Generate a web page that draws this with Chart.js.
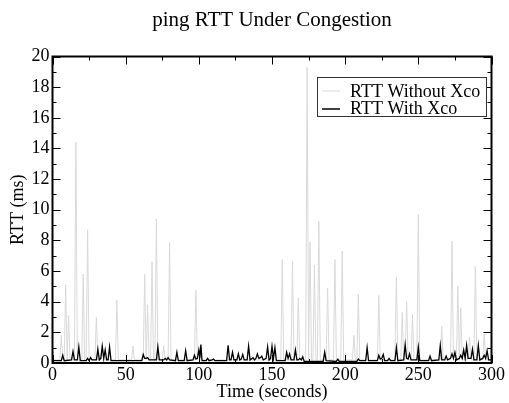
<!DOCTYPE html>
<html>
<head>
<meta charset="utf-8">
<script src="https://cdn.jsdelivr.net/npm/chart.js@4/dist/chart.umd.min.js"></script>
<style>
  html, body { margin: 0; padding: 0; background: #fff; }
  #rttChart { display: block; }
</style>
</head>
<body>
<canvas id="rttChart" width="509" height="403"></canvas>
<script>
// RTT without Xco: time (s) and value (ms)
var withoutTime = [0, 5, 6, 7, 8, 9, 10, 11, 12, 15, 16, 17, 20, 21, 22, 23, 24, 25, 29, 30, 31, 33, 34, 35,
    43, 44, 45, 54, 55, 56, 62, 63, 64, 65, 66, 67, 68, 69, 70, 71, 72, 75, 76, 77, 79, 80, 81, 97, 98, 99,
    156, 157, 158, 163, 164, 165, 167, 168, 169, 173, 174, 175, 176, 177, 178, 179, 180, 181, 182, 183,
    187, 188, 189, 192, 193, 194, 197, 198, 199, 205, 206, 207, 208, 209, 210, 222, 223, 224,
    234, 235, 236, 238, 239, 240, 241, 242, 243, 245, 246, 247, 249, 250, 251, 265, 266, 267,
    272, 273, 274, 276, 277, 278, 279, 280, 284, 285, 286, 288, 289, 290, 294, 295, 296, 300];
var withoutRtt = [0.2, 0.2, 1.8, 0.2, 0.2, 5.1, 0.2, 3.1, 0.2, 0.2, 14.4, 0.2, 0.2, 5.8, 0.2, 0.2, 8.7, 0.2, 0.2, 3.0, 0.2, 0.2, 1.2, 0.2,
    0.2, 4.1, 0.2, 0.2, 1.1, 0.2, 0.2, 5.8, 0.2, 3.8, 0.2, 0.2, 6.6, 0.2, 0.2, 9.4, 0.2, 0.2, 1.1, 0.2, 0.2, 7.9, 0.2, 0.2, 4.75, 0.2,
    0.2, 6.75, 0.2, 0.2, 6.65, 0.2, 0.2, 4.25, 0.2, 0.2, 19.3, 0.2, 7.9, 0.2, 0.2, 6.4, 0.2, 0.2, 9.25, 0.2,
    0.2, 4.9, 0.2, 0.2, 6.75, 0.2, 0.2, 7.3, 0.2, 0.2, 1.8, 0.2, 0.2, 4.5, 0.2, 0.2, 4.4, 0.2,
    0.2, 5.6, 0.2, 0.2, 3.3, 0.2, 0.2, 4.0, 0.2, 0.2, 3.2, 0.2, 0.2, 9.7, 0.2, 0.2, 2.4, 0.2,
    0.2, 7.95, 0.2, 0.2, 5.0, 0.2, 3.6, 0.2, 0.2, 1.7, 0.2, 0.2, 6.3, 0.2, 0.2, 1.9, 0.2, 0.2];

// RTT with Xco
var withTime = [0, 6, 7, 8, 13, 14, 15, 17, 18, 19, 23, 24, 25, 26, 27, 30, 31, 32, 33, 34, 35, 36, 37, 38, 39, 40,
    61, 62, 63, 64, 65, 66, 71, 72, 73, 76, 77, 78, 79, 80, 84, 85, 86, 90, 91, 92, 96, 97, 98, 99, 100, 100.7, 101.4, 102.2,
    105, 106, 107, 109, 110, 111, 119, 120, 121, 122, 123, 124, 126, 127, 128, 129, 130, 131, 133, 134, 135,
    137, 138, 139, 140, 141, 142, 143, 144, 146, 147, 148, 149, 150, 151, 152, 153,
    159, 160, 161, 162, 163, 165, 166, 167, 168, 169, 170, 171, 172, 185, 186, 187, 194, 195, 196, 208, 209, 210,
    214, 215, 216, 222, 223, 224, 225, 226, 227, 229, 230, 231, 234, 235, 236, 240, 241, 242, 243, 244, 245,
    249, 250, 251, 257, 258, 259, 264, 265, 266, 268, 269, 270, 272, 273, 274, 275, 276, 278, 279, 280, 281, 282,
    283, 284, 286, 287, 288, 290, 291, 292, 294, 295, 296, 297, 298, 300];
var withRtt = [0.15, 0.15, 0.5, 0.15, 0.2, 0.75, 0.2, 0.2, 1.05, 0.15, 0.15, 0.3, 0.15, 0.35, 0.2, 0.2, 0.9, 0.2, 0.3, 1.1, 0.3, 0.85, 0.2, 0.2, 1.05, 0.15,
    0.15, 0.55, 0.3, 0.3, 0.35, 0.2, 0.2, 1.05, 0.2, 0.2, 0.3, 0.2, 0.35, 0.2, 0.15, 0.7, 0.15, 0.15, 0.8, 0.15, 0.2, 0.5, 0.25, 0.3, 0.85, 0.3, 1.2, 0.15,
    0.15, 0.3, 0.15, 0.2, 0.25, 0.15, 0.15, 1.15, 0.2, 0.2, 0.7, 0.2, 0.2, 0.6, 0.2, 0.25, 0.55, 0.2, 0.2, 1.1, 0.2,
    0.35, 0.2, 0.3, 0.6, 0.3, 0.35, 0.45, 0.2, 0.3, 1.05, 0.2, 0.3, 1.1, 0.3, 1.0, 0.15,
    0.15, 0.7, 0.3, 0.6, 0.2, 0.2, 0.85, 0.2, 0.2, 0.3, 0.2, 0.4, 0.1, 0.1, 0.7, 0.15, 0.1, 0.25, 0.1, 0.1, 0.25, 0.15,
    0.15, 1.0, 0.15, 0.15, 0.5, 0.25, 0.3, 0.55, 0.15, 0.15, 0.3, 0.15, 0.15, 1.0, 0.15, 0.2, 1.2, 0.3, 0.25, 0.6, 0.2,
    0.2, 1.05, 0.15, 0.15, 0.45, 0.15, 0.2, 1.15, 0.2, 0.2, 0.45, 0.2, 0.3, 0.6, 0.3, 0.7, 0.2, 0.3, 0.5, 0.3, 0.85, 0.3,
    1.15, 0.3, 0.3, 0.9, 0.2, 0.2, 1.15, 0.2, 0.3, 0.5, 0.3, 0.8, 0.2, 0.2];

var chartTitle = 'ping RTT Under Congestion';
var seriesNames = ['RTT Without Xco', 'RTT With Xco'];
var xTicks = [0, 50, 100, 150, 200, 250, 300];
var yTicks = [0, 2, 4, 6, 8, 10, 12, 14, 16, 18, 20];

var grayColor = '#d9d9d9';
var serif = "'Liberation Serif', 'Times New Roman', serif";

function toPoints(times, values) {
    return times.map(function (t, i) { return { x: t, y: values[i] }; });
}

// title, frame, inward ticks on all four sides and the boxed legend
var framePlugin = {
    id: 'frameTicks',
    afterDraw: function (chart) {
        var ctx = chart.ctx;
        var a = chart.chartArea;
        var xs = chart.scales.x;
        var ys = chart.scales.y;
        ctx.save();

        ctx.fillStyle = '#000';
        ctx.font = '21px ' + serif;
        ctx.textAlign = 'center';
        ctx.textBaseline = 'alphabetic';
        ctx.fillText(chartTitle, (a.left + a.right) / 2, 26);

        ctx.strokeStyle = '#000';
        ctx.lineWidth = 1;
        var v, px, len;
        for (v = 0; v <= 300; v += 25) {
            px = Math.round(xs.getPixelForValue(v)) + 0.5;
            len = (v % 50 === 0) ? 8 : 4;
            ctx.beginPath();
            ctx.moveTo(px, a.bottom); ctx.lineTo(px, a.bottom - len);
            ctx.moveTo(px, a.top); ctx.lineTo(px, a.top + len);
            ctx.stroke();
        }
        for (v = 0; v <= 20; v += 1) {
            px = Math.round(ys.getPixelForValue(v)) + 0.5;
            len = (v % 2 === 0) ? 8 : 4;
            ctx.beginPath();
            ctx.moveTo(a.left, px); ctx.lineTo(a.left + len, px);
            ctx.moveTo(a.right, px); ctx.lineTo(a.right - len, px);
            ctx.stroke();
        }
        ctx.lineWidth = 2;
        ctx.strokeRect(a.left, a.top, a.right - a.left, a.bottom - a.top);

        // legend
        var lx = 317.5, ly = 77.5, lw = 169, lh = 39;
        ctx.fillStyle = '#fff';
        ctx.fillRect(lx, ly, lw, lh);
        ctx.lineWidth = 1;
        ctx.strokeStyle = '#333';
        ctx.strokeRect(lx, ly, lw, lh);
        ctx.strokeStyle = grayColor;
        ctx.beginPath(); ctx.moveTo(322, 91); ctx.lineTo(340, 91); ctx.stroke();
        ctx.lineWidth = 1.5;
        ctx.strokeStyle = '#000';
        ctx.beginPath(); ctx.moveTo(322, 109); ctx.lineTo(340, 109); ctx.stroke();
        ctx.fillStyle = '#000';
        ctx.font = '18px ' + serif;
        ctx.textAlign = 'left';
        ctx.fillText(seriesNames[0], 350, 97);
        ctx.fillText(seriesNames[1], 350, 113.5);
        ctx.restore();
    }
};

Chart.defaults.font.family = serif;
Chart.defaults.font.size = 18;
Chart.defaults.color = '#000';

var ctx = document.getElementById('rttChart').getContext('2d');
var chartInstance = new Chart(ctx, {
    type: 'line',
    data: {
        datasets: [
            {
                label: seriesNames[0],
                data: toPoints(withoutTime, withoutRtt),
                borderColor: grayColor,
                borderWidth: 1,
                pointRadius: 0,
                tension: 0,
                order: 2
            },
            {
                label: seriesNames[1],
                data: toPoints(withTime, withRtt),
                borderColor: '#000',
                borderWidth: 1.3,
                pointRadius: 0,
                tension: 0,
                order: 1
            }
        ]
    },
    options: {
        responsive: false,
        animation: false,
        layout: { padding: { left: 0, right: 17.5, top: 56.5, bottom: 0 } },
        plugins: {
            legend: { display: false },
            tooltip: { enabled: false },
            title: { display: false }
        },
        scales: {
            x: {
                type: 'linear',
                min: 0,
                max: 300,
                grid: { display: false, drawTicks: false },
                border: { display: false },
                afterFit: function (scale) { scale.height = 40; },
                afterBuildTicks: function (scale) {
                    scale.ticks = xTicks.map(function (v) { return { value: v }; });
                },
                ticks: { padding: 1, maxRotation: 0, autoSkip: false },
                title: {
                    display: true,
                    text: 'Time (seconds)',
                    font: { size: 18 },
                    padding: { top: 0, bottom: 0 }
                }
            },
            y: {
                min: 0,
                max: 20,
                grid: { display: false, drawTicks: false },
                border: { display: false },
                afterFit: function (scale) { scale.width = 52.5; },
                afterBuildTicks: function (scale) {
                    scale.ticks = yTicks.map(function (v) { return { value: v }; });
                },
                ticks: { padding: 3, autoSkip: false },
                title: {
                    display: true,
                    text: 'RTT (ms)',
                    font: { size: 18 },
                    padding: { top: 7, bottom: 0 }
                }
            }
        }
    },
    plugins: [framePlugin]
});
</script>
</body>
</html>
